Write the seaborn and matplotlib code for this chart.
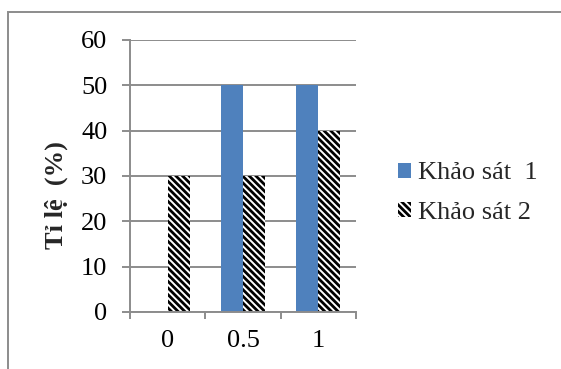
import matplotlib
matplotlib.use("Agg")
import matplotlib.pyplot as plt
import matplotlib.patches as mpatches
import seaborn as sns
import pandas as pd

# Survey results: share (%) per level
levels = ["0", "0.5", "1"]
survey1 = [0, 50, 50]
survey2 = [30, 30, 40]
series_names = ["Khảo sát  1", "Khảo sát 2"]
y_ticks = [0, 10, 20, 30, 40, 50, 60]

df = pd.DataFrame({
    "level": levels * 2,
    "value": survey1 + survey2,
    "series": [series_names[0]] * len(levels) + [series_names[1]] * len(levels),
})

sns.set_theme(style="white")
plt.rcParams["font.family"] = ["Liberation Serif", "DejaVu Serif"]
plt.rcParams["hatch.linewidth"] = 2.0
plt.rcParams["hatch.color"] = "black"

FS = 19
HATCH = "\\" * 5
LW = 1.4
W, H = 561, 369
fig = plt.figure(figsize=(W / 100, H / 100), dpi=100)
fig.patch.set_facecolor("white")
ax = fig.add_axes([130 / W, 1 - 312 / H, (356 - 130) / W, (312 - 40) / H])

blue = "#4f81bd"
sns.barplot(data=df, x="level", y="value", hue="series", order=levels,
            hue_order=series_names, palette=[blue, "white"], width=0.58,
            saturation=1, ax=ax, legend=False)

# style the second series as hatched bars
for bar in ax.containers[1]:
    bar.set_hatch(HATCH)
    bar.set_edgecolor("black")
    bar.set_linewidth(0)
for bar in ax.containers[0]:
    bar.set_linewidth(0)

grid_c = "#8c8c8c"
ax.set_ylim(0, 60)
ax.set_xlim(-0.5, len(levels) - 0.5)
ax.set_yticks(y_ticks)
ax.yaxis.grid(True, color=grid_c, linewidth=LW)
ax.set_axisbelow(True)
for s in ["top", "right"]:
    ax.spines[s].set_visible(False)
for s in ["left", "bottom"]:
    ax.spines[s].set_color(grid_c)
    ax.spines[s].set_linewidth(LW)

ax.tick_params(axis="y", which="major", length=5.8, width=LW, color=grid_c,
               pad=10.5, labelsize=FS, labelcolor="black", left=True)
ax.set_xticks(range(len(levels)))
ax.set_xticklabels(levels)
ax.set_xticks([i - 0.5 for i in range(len(levels) + 1)], minor=True)
ax.tick_params(axis="x", which="major", length=0, pad=13, labelsize=FS,
               labelcolor="black")
ax.tick_params(axis="x", which="minor", length=5, width=LW, color=grid_c,
               bottom=True)
ax.set_xlabel("")
ax.set_ylabel("Tỉ lệ  (%)", fontsize=FS, fontweight="bold")
ax.yaxis.set_label_coords(68 / W, 174 / H, transform=fig.transFigure)

# legend
handles = [mpatches.Patch(facecolor=blue, edgecolor="none"),
           mpatches.Patch(facecolor="white", edgecolor="black", hatch=HATCH, linewidth=0)]
fig.legend(handles, series_names, loc="center left",
           bbox_to_anchor=(374 / W, 1 - 193 / H), frameon=False,
           fontsize=FS, handlelength=0.5, handleheight=0.5,
           handletextpad=0.25, labelspacing=0.65)

# outer chart border
frame = mpatches.Rectangle((8 / W, -0.1), 1.2, 1 - 12 / H + 0.1,
                           transform=fig.transFigure, fill=False,
                           edgecolor="#8c8c8c", linewidth=LW, clip_on=False)
fig.patches.append(frame)

fig.savefig("out.png", dpi=100, facecolor="white")
